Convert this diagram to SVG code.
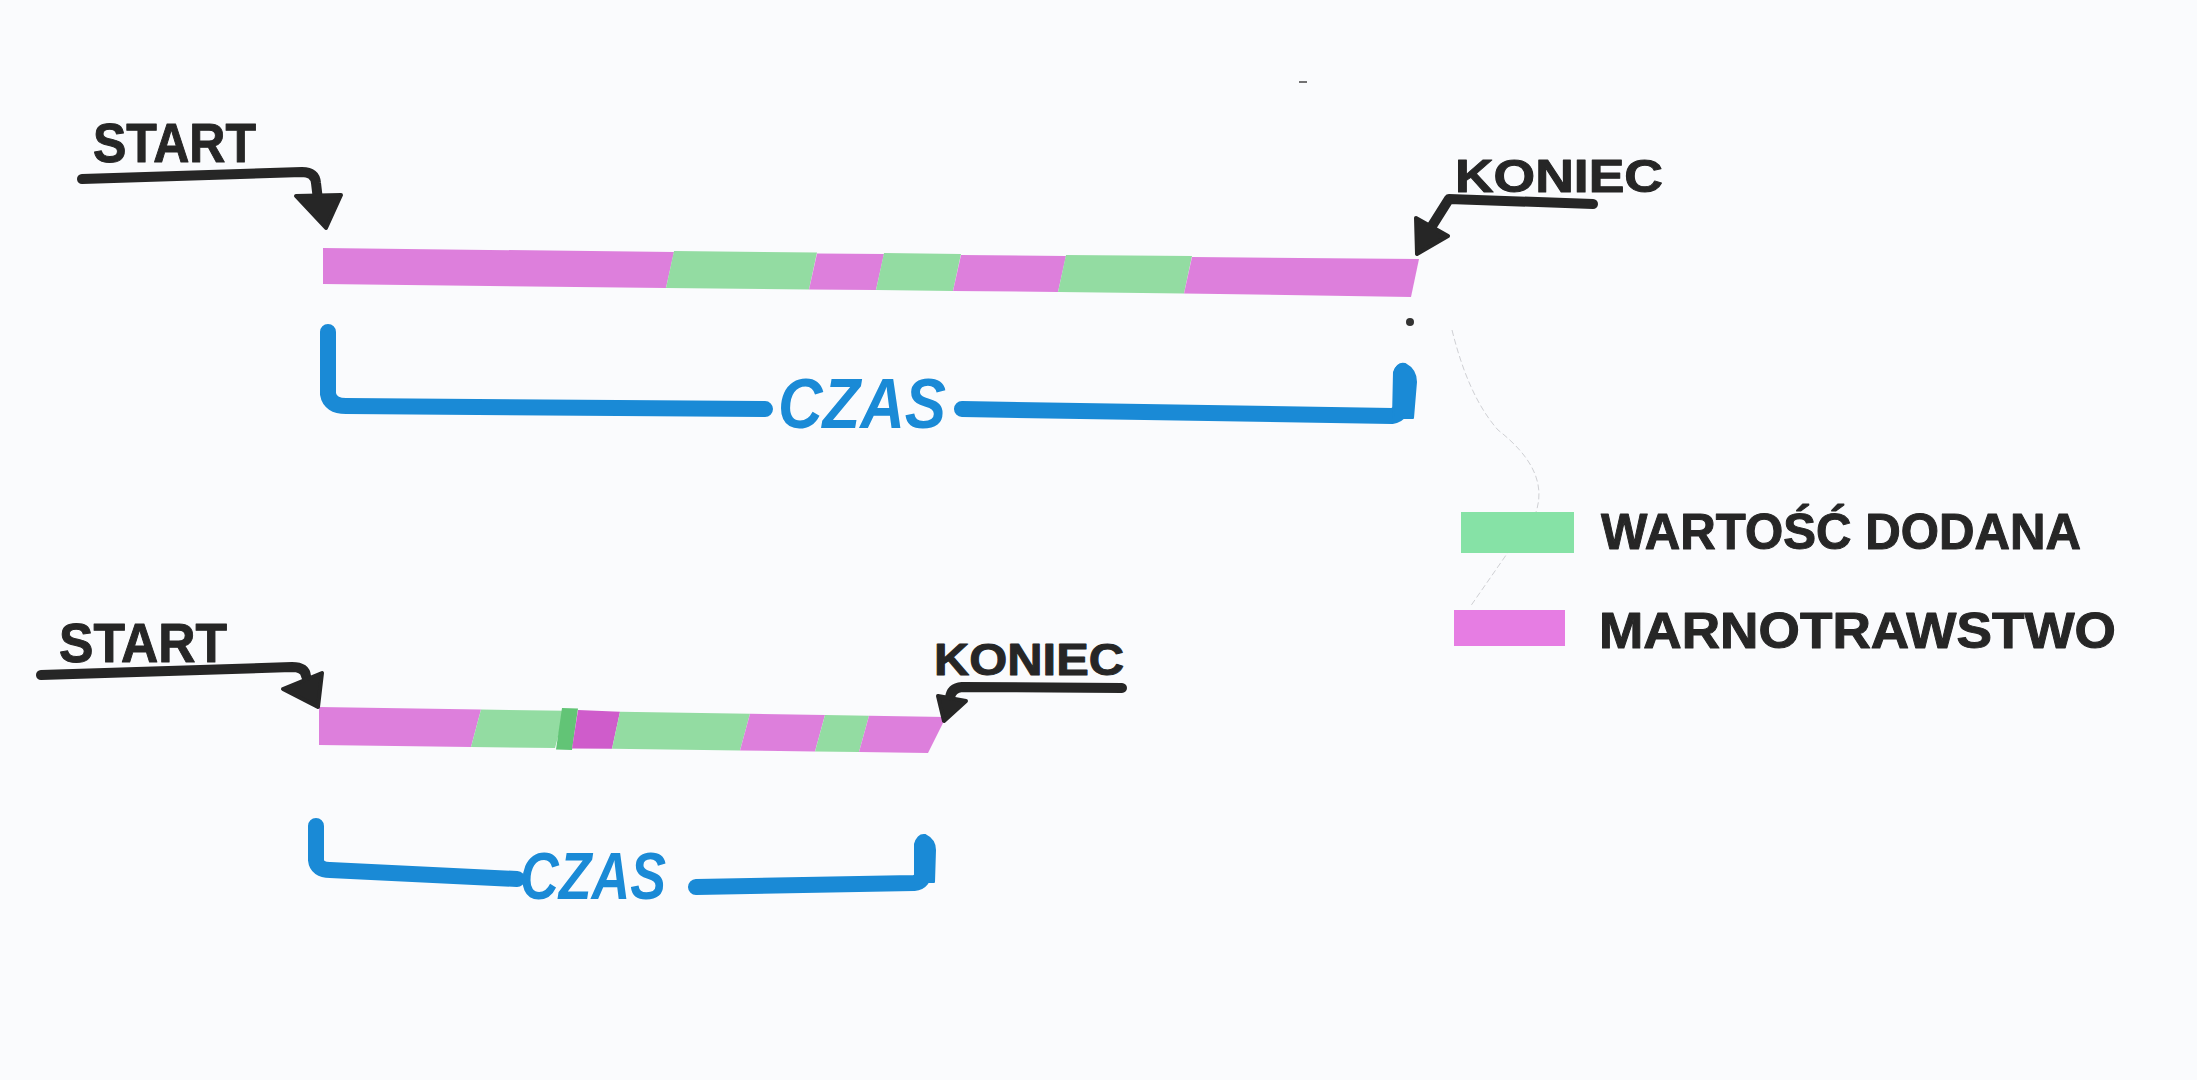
<svg xmlns="http://www.w3.org/2000/svg" width="2197" height="1080" viewBox="0 0 2197 1080">
  <style>
    .lbl { font-family: "Liberation Sans", Arial, sans-serif; font-weight: bold; fill: #262626; stroke: #262626; stroke-width: 1; stroke-linejoin: round; }
    .czas { font-family: "Liberation Sans", Arial, sans-serif; font-weight: bold; font-style: italic; fill: #1a8ad6; }
    .pink { fill: #dd7fdc; }
    .green { fill: #93dca2; }
    .blue { fill: none; stroke: #1a8ad6; stroke-width: 16; stroke-linecap: round; stroke-linejoin: round; }
    .blob { fill: #1a8ad6; stroke: #1a8ad6; stroke-width: 2; stroke-linejoin: round; }
    .arr { fill: none; stroke: #262626; stroke-width: 10; stroke-linecap: round; stroke-linejoin: round; }
    .head { fill: #262626; stroke: #262626; stroke-width: 4; stroke-linejoin: round; }
  </style>
  <rect width="2197" height="1080" fill="#fafbfd"/>

  <!-- faint pencil trace and specks -->
  <path d="M1452,330 C1462,370 1476,405 1498,430 C1530,455 1546,482 1536,512 L1470,607" fill="none" stroke="#cfd0d4" stroke-width="1" stroke-dasharray="6 3"/>
  <circle cx="1410" cy="322" r="4" fill="#333"/>
  <line x1="1299" y1="82" x2="1307" y2="82" stroke="#444" stroke-width="1.5"/>

  <!-- top timeline -->
  <g id="node-start-top">
    <text class="lbl" x="93" y="162" font-size="56" textLength="163" lengthAdjust="spacingAndGlyphs">START</text>
  </g>
  <g id="node-koniec-top">
    <text class="lbl" x="1455" y="192" font-size="46" textLength="208" lengthAdjust="spacingAndGlyphs">KONIEC</text>
  </g>
  <g id="node-bar-top">
    <polygon class="pink" points="323,248 674,252 666,288 323,284"/>
    <polygon class="green" points="674,251 817,252.5 809,289.4 666,288"/>
    <polygon class="pink" points="817,253.5 884,254 876,290 809,289.4"/>
    <polygon class="green" points="884,253 961,254 953,291 876,290"/>
    <polygon class="pink" points="961,255 1066,256 1058,292 953,291"/>
    <polygon class="green" points="1066,255 1192,256 1184,293.5 1058,292"/>
    <polygon class="pink" points="1192,257 1419,259 1411,297 1184,293.5"/>
  </g>
  <g id="node-czas-top">
    <path class="blue" d="M328,332 L328,394 Q330,406 346,406 L765,409"/>
    <path class="blue" d="M962,409 L1392,416 Q1402,415 1402,400 L1402,372"/>
    <path class="blob" d="M1393,418 L1394,372 Q1398,362 1405,364 Q1416,370 1416,382 L1413,418 Z"/>
    <text class="czas" x="778" y="428" font-size="70" textLength="168" lengthAdjust="spacingAndGlyphs">CZAS</text>
  </g>

  <!-- bottom timeline -->
  <g id="node-start-bottom">
    <text class="lbl" x="59" y="662" font-size="56" textLength="168" lengthAdjust="spacingAndGlyphs">START</text>
  </g>
  <g id="node-koniec-bottom">
    <text class="lbl" x="934" y="675" font-size="45" textLength="190" lengthAdjust="spacingAndGlyphs">KONIEC</text>
  </g>
  <g id="node-bar-bottom">
    <polygon class="pink" points="319,707 481,709.5 471,747 319,745"/>
    <polygon class="green" points="481,709.5 565,710.8 555,748.1 471,747"/>
    <polygon fill="#62c476" points="562,708 578,708.5 572,750 556,749.5"/>
    <polygon fill="#cf5ccb" points="578,710 620,711.7 612,748.8 572,748.5"/>
    <polygon class="green" points="620,711.7 750,713.8 740,750.4 612,748.8"/>
    <polygon class="pink" points="750,713.8 825,715 815,751.4 740,750.4"/>
    <polygon class="green" points="825,715 869,715.7 859,752 815,751.4"/>
    <polygon class="pink" points="869,715.7 946,717 928,753 859,752"/>
  </g>
  <g id="node-czas-bottom">
    <path class="blue" d="M316,826 L316,860 Q317,870 330,870 L517,879"/>
    <path class="blue" d="M696,887 L914,883 Q924,882 924,870 L924,846"/>
    <path class="blob" d="M915,882 L915,844 Q918,834 925,835 Q935,840 935,850 L934,882 Z"/>
    <text class="czas" x="520" y="899" font-size="66" textLength="146" lengthAdjust="spacingAndGlyphs">CZAS</text>
  </g>

  <!-- legend -->
  <g id="node-legend-wartosc">
    <rect x="1461" y="512" width="113" height="41" fill="#86e2a6"/>
    <text class="lbl" x="1601" y="549" font-size="50" textLength="480" lengthAdjust="spacingAndGlyphs">WARTOŚĆ DODANA</text>
  </g>
  <g id="node-legend-marnotrawstwo">
    <rect x="1454" y="610" width="111" height="36" fill="#e67de3"/>
    <text class="lbl" x="1599" y="648" font-size="50" textLength="517" lengthAdjust="spacingAndGlyphs">MARNOTRAWSTWO</text>
  </g>

  <!-- connectors -->
  <g id="connectors">
    <path class="arr" d="M82,179 L302,172 Q315,172 316,183 L318,200"/>
    <polygon class="head" points="296,196 341,195 326,228"/>
    <path class="arr" d="M1593,204 L1449,199 L1432,226"/>
    <polygon class="head" points="1416,218 1448,236 1417,254"/>
    <path class="arr" d="M41,675 L292,667 Q305,667 306,676"/>
    <polygon class="head" points="283,689 322,673 318,707"/>
    <path class="arr" d="M1122,688 L962,687 Q951,688 950,698"/>
    <polygon class="head" points="938,696 966,701 944,721"/>
  </g>
</svg>
